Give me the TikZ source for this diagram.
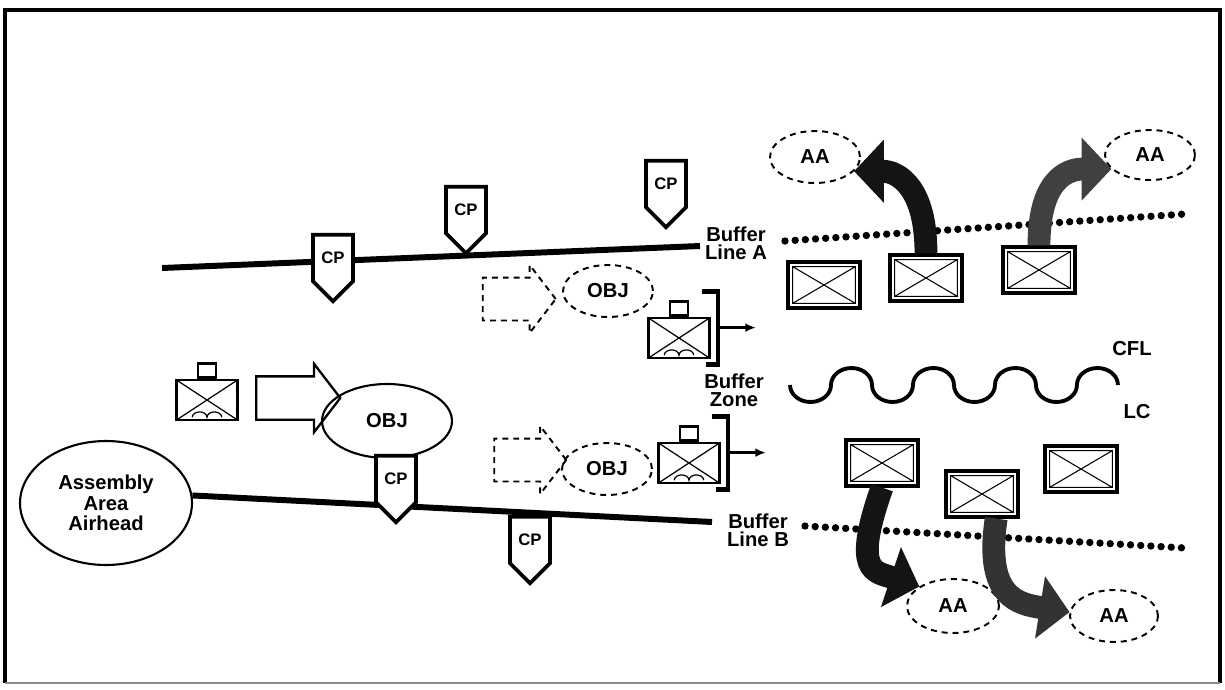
\documentclass[tikz,border=0pt]{standalone}
\usepackage{fontspec}
\setmainfont{Liberation Sans}
\usetikzlibrary{arrows.meta,positioning,shapes,calc}

\begin{document}
\begin{tikzpicture}[x=0.02cm,y=-0.02cm,
  lbl/.style={font=\bfseries\fontsize{11.5}{10.5}\selectfont,align=center,inner sep=0},
  cp/.style={shape=signal,signal to=south,signal pointer angle=90,draw,fill=white,line width=2.1pt,
    minimum width=0.8cm,minimum height=1.16cm,inner sep=0,font=\bfseries\fontsize{9.5}{10}\selectfont},
  obj/.style={ellipse,draw,inner sep=0,font=\bfseries\fontsize{11.5}{12}\selectfont},
  dsh/.style={dash pattern=on 3.4pt off 2.8pt,line width=1.1pt},
  phase/.style={line width=3.4pt},
  dotline/.style={line width=4.2pt,line cap=round,dash pattern=on 0pt off 5.8pt},
  unitbox/.style={draw,fill=white,line width=1.8pt,minimum width=1.44cm,minimum height=0.92cm,inner sep=0,
    path picture={
      \draw[line width=0.6pt] ([shift={(2.6pt,2.6pt)}]path picture bounding box.south west) rectangle ([shift={(-2.6pt,-2.6pt)}]path picture bounding box.north east)
        ([shift={(2.6pt,2.6pt)}]path picture bounding box.south west) -- ([shift={(-2.6pt,-2.6pt)}]path picture bounding box.north east)
        ([shift={(2.6pt,-2.6pt)}]path picture bounding box.north west) -- ([shift={(-2.6pt,2.6pt)}]path picture bounding box.south east);
    }},
  abnbox/.style={draw,fill=white,line width=1.6pt,minimum width=1.22cm,minimum height=0.8cm,inner sep=0,
    path picture={
      \draw[line width=0.7pt] (path picture bounding box.south west) -- (path picture bounding box.north east)
        (path picture bounding box.north west) -- (path picture bounding box.south east);
      \draw[line width=0.7pt] ([xshift=-8.4pt,yshift=1.6pt]path picture bounding box.south)
        arc[start angle=180,end angle=0,x radius=4.2pt,y radius=3pt]
        arc[start angle=180,end angle=0,x radius=4.2pt,y radius=3pt];
    }},
  hq/.style={draw,fill=white,line width=1.4pt,minimum width=0.36cm,minimum height=0.28cm,inner sep=0},
  bracket/.style={line width=2.6pt},
  blockarrow/.style={single arrow,draw,inner xsep=0,inner ysep=0.41cm,single arrow tip angle=105,
    minimum width=1.2cm},
  fatarrow/.style={line width=13pt,-{Triangle[width=35pt,length=17pt]}},
]
\useasboundingbox (0,0) rectangle (1225,690);

% frame
\draw[line width=2.5pt] (5,683) -- (5,10) -- (1220,10) -- (1220,683);
\draw[line width=0.8pt,black!45] (5,683) -- (1220,683);

% objectives and assembly areas
\node[obj,line width=1.2pt,minimum width=3.44cm,minimum height=2.48cm,align=center,
  font=\bfseries\fontsize{11.5}{11.8}\selectfont] (aasm) at (106,503) {Assembly\\Area\\Airhead};
\node[obj,line width=1.2pt,minimum width=2.6cm,minimum height=1.48cm] (obj1) at (387,421) {OBJ};
\node[obj,dsh,minimum width=1.8cm,minimum height=1.04cm] (obj2) at (608,291) {OBJ};
\node[obj,dsh,minimum width=1.8cm,minimum height=1.04cm] (obj3) at (607,469) {OBJ};
\node[obj,dsh,minimum width=1.8cm,minimum height=1.04cm] (aa1) at (815,157) {AA};
\node[obj,dsh,minimum width=1.8cm,minimum height=1.0cm] (aa2) at (1150,155) {AA};
\node[obj,dsh,minimum width=1.84cm,minimum height=1.08cm] (aa3) at (953,606) {AA};
\node[obj,dsh,minimum width=1.76cm,minimum height=1.04cm] (aa4) at (1114,616) {AA};

% buffer lines
\coordinate (lineAw) at (162,268);
\coordinate (lineAe) at (700,246);
\coordinate (lineBe) at (712,522);
\draw[phase] (lineAw) -- (lineAe);
\draw[phase] (aasm.5) -- (lineBe);
\coordinate (dotAw) at (785,241);
\coordinate (dotAe) at (1185,214);
\coordinate (dotBw) at (805,526);
\coordinate (dotBe) at (1185,548);
\draw[dotline] (dotAw) -- (dotAe);
\draw[dotline] (dotBw) -- (dotBe);

% CFL / LC
\draw[line width=2.2pt] (790,385) \foreach \i in {1,...,4} {
  arc[start angle=180,end angle=360,x radius=0.41cm,y radius=0.34cm]
  arc[start angle=180,end angle=0,x radius=0.41cm,y radius=0.34cm] };

\node[lbl] (bufA) at (736,243) {Buffer\\Line A};
\node[lbl] (bufZ) at (734,390) {Buffer\\Zone};
\node[lbl] (bufB) at (758,530) {Buffer\\Line B};
\node[lbl] (cfl) at (1132,349) {CFL};
\node[lbl] (lc) at (1137,412) {LC};

% check points
\node[cp] (c1) at (333,258) {CP};
\node[cp] (c2) at (466,210) {CP};
\node[cp] (c3) at (666,184) {CP};
\node[cp] (c4) at (396,479) {CP};
\node[cp] (c5) at (530,540) {CP};

% airborne units and moves
\node[abnbox] (lu) at (207,400) {};
\node[hq,above=0pt of lu] (luhq) {};
\node[blockarrow,line width=1.3pt,minimum height=1.68cm] (mv1) at (290,398) {};
\node[blockarrow,dsh,minimum height=1.46cm] (mv2) at (511,299) {};
\node[blockarrow,dsh,minimum height=1.44cm,minimum width=1.18cm] (mv3) at (522,460) {};

\node[abnbox] (mu1) at (679,338) {};
\node[hq,above=0pt of mu1] (mu1hq) {};
\node[abnbox] (mu2) at (689,463) {};
\node[hq,above=0pt of mu2] (mu2hq) {};
\foreach \u in {mu1,mu2} {
  \draw[bracket] ($(\u.north east)+(-9,-25)$) -| ($(\u.south east)+(7,5)$) -- ($(\u.south east)+(-5,5)$);
  \coordinate (\u a) at ($(\u.north east)+(7,11)$);
  \coordinate (\u t) at ($(\u.north east)+(45,11)$);
  \draw[line width=1.4pt,-{Latex[length=6pt,width=5pt]}] (\u a) -- (\u t);
}

% units beyond the line of contact
\node[unitbox] (u1) at (824,285) {};
\node[unitbox] (u2) at (926,278) {};
\node[unitbox] (u3) at (1039,270) {};
\node[unitbox] (u4) at (882,463) {};
\node[unitbox] (u5) at (982,494) {};
\node[unitbox] (u6) at (1081,469) {};

\draw[fatarrow,black!92] (u2.north) .. controls +(0,-65) and +(45,0) .. (aa1.-20);
\draw[fatarrow,black!75] (u3.north) .. controls +(0,-65) and +(-45,0) .. (aa2.200);
\draw[fatarrow,black!92] (u4.south) .. controls +(-30,85) and +(-45,-15) .. (aa3.150);
\draw[fatarrow,black!80] (u5.-60) .. controls +(-12,80) and +(-50,-8) .. (aa4.175);
\end{tikzpicture}
\end{document}
